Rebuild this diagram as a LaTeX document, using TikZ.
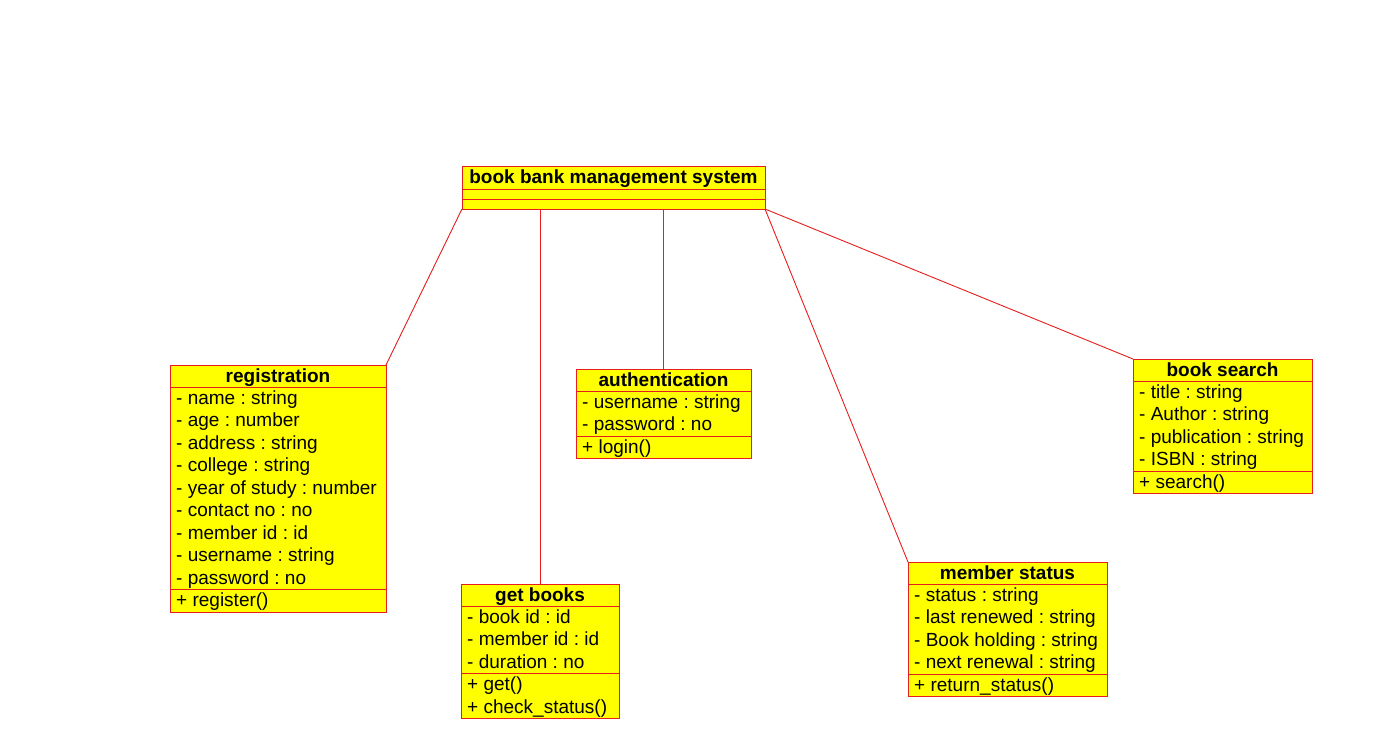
\documentclass[tikz,border=0pt]{standalone}
\usepackage{fontspec}
\setmainfont{Liberation Sans}
\usetikzlibrary{calc}
\frenchspacing
\definecolor{umlred}{RGB}{230,30,30}
\definecolor{umlyellow}{RGB}{255,255,0}
\tikzset{
  cls/.style={draw=umlred, fill=umlyellow, line width=1pt, inner sep=0pt, outer sep=0pt},
  sep/.style={draw=umlred, line width=1pt},
  conn/.style={draw=umlred, line width=0.9pt},
  ttl/.style={font=\fontsize{19}{22}\selectfont\bfseries, inner sep=0pt, text height=14pt, text depth=4pt},
  attr/.style={font=\fontsize{19}{22}\selectfont, anchor=west, inner sep=0pt, text height=14pt, text depth=4pt},
}
\def\rh{22.5}
\newcommand\umlclass[9]{%
  \pgfmathsetmacro\hA{#5*\rh}%
  \pgfmathsetmacro\hM{#6*\rh}%
  \pgfmathsetmacro\hH{22+\hA+\hM}%
  \node[cls, minimum width=#4, minimum height=\hH, anchor=north west] (#1) at (#2,#3) {};
  \node[ttl] (#1-title) at ($(#1.north)+(0,12)$) {#7};
  \draw[sep] ($(#1.north west)+(0,22)$) -- ($(#1.north east)+(0,22)$);
  \draw[sep] ($(#1.north west)+(0,{22+\hA})$) -- ($(#1.north east)+(0,{22+\hA})$);
  \foreach \t [count=\i] in {#8} {
    \node[attr] at ($(#1.north west)+(6,{23+(\i-0.5)*\rh})$) {\t};
  }
  \foreach \t [count=\i] in {#9} {
    \node[attr] at ($(#1.north west)+(6,{23+\hA+(\i-0.5)*\rh})$) {\t};
  }
}
\begin{document}
\begin{tikzpicture}[x=1pt,y=-1pt]
\useasboundingbox (0,0) rectangle (1373,749);
\fill[white] (0,0) rectangle (1373,749);

% main class
\node[cls, minimum width=303, minimum height=43, anchor=north west] (main) at (462,166) {};
\node[ttl] (main-title) at ($(main.north)+(0,12)$) {book bank management system};
\draw[sep] ($(main.north west)+(0,23)$) -- ($(main.north east)+(0,23)$);
\draw[sep] ($(main.north west)+(0,33)$) -- ($(main.north east)+(0,33)$);

\umlclass{reg}{170}{365}{216}{9}{1}{registration}
  {- name : string,- age : number,- address : string,- college : string,- year of study : number,- contact no : no,- member id : id,- username : string,- password : no}
  {+ register()}
\umlclass{auth}{576}{369}{175}{2}{1}{authentication}
  {- username : string,- password : no}
  {+ login()}
\umlclass{gb}{461}{584}{158}{3}{2}{get books}
  {- book id : id,- member id : id,- duration : no}
  {+ get(),+ check\_status()}
\umlclass{ms}{908}{562}{199}{4}{1}{member status}
  {- status : string,- last renewed : string,- Book holding : string,- next renewal : string}
  {+ return\_status()}
\umlclass{bs}{1133}{359}{179}{4}{1}{book search}
  {- title : string,- Author : string,- publication : string,- ISBN : string}
  {+ search()}

% connectors
\draw[conn] (main.south west) -- (reg.north east);
\draw[conn] (gb.north |- main.south) -- (gb.north);
\draw[conn] (auth.north |- main.south) -- (auth.north);
\draw[conn] (main.south east) -- (ms.north west);
\draw[conn] (main.south east) -- (bs.north west);
\end{tikzpicture}
\end{document}
